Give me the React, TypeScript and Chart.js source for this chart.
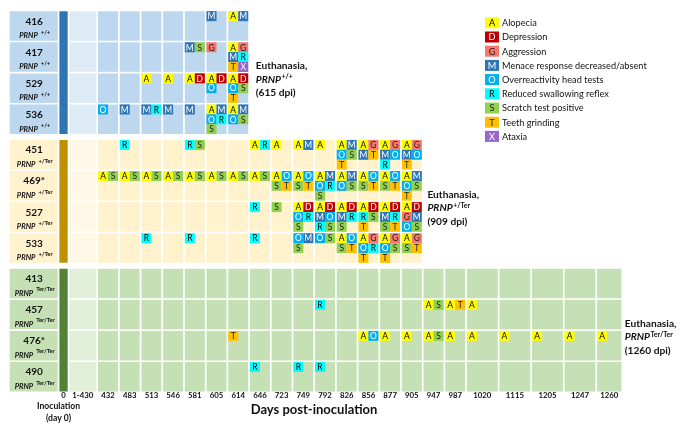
import React, { useEffect, useRef } from 'react';
import { Chart, registerables } from 'chart.js';

Chart.register(...registerables);

// ---------------- data ----------------
const DAYS = ['1-430', '432', '483', '513', '546', '581', '605', '614', '646', '723', '749', '792', '826', '856', '877', '905', '947', '987', '1020', '1115', '1205', '1247', '1260'];
const INOCULATION_TICK = '0';
const GENOTYPES = ['+/+', '+/Ter', 'Ter/Ter'];
const MICE_WT = ['416', '417', '529', '536'];
const MICE_HET = ['451', '469*', '527', '533'];
const MICE_HOM = ['413', '457', '476*', '490'];
const LAST_DAY = ['614', '905', '1260'];
const EUTHANASIA_DPI = [615, 909, 1260];

const SIGN_CODES = ['A', 'D', 'G', 'M', 'O', 'R', 'S', 'T', 'X'];
const SIGN_NAMES = ['Alopecia', 'Depression', 'Aggression', 'Menace response decreased/absent', 'Overreactivity head tests', 'Reduced swallowing reflex', 'Scratch test positive', 'Teeth grinding', 'Ataxia'];

// clinical signs observed per mouse: [day, signs]
const SIGNS_416: [string, string][] = [['605', 'M'], ['614', 'AM']];
const SIGNS_417: [string, string][] = [['581', 'MS'], ['605', 'G'], ['614', 'AGMRTX']];
const SIGNS_529: [string, string][] = [['513', 'A'], ['546', 'A'], ['581', 'AD'], ['605', 'ADO'], ['614', 'ADOST']];
const SIGNS_536: [string, string][] = [['432', 'O'], ['483', 'M'], ['513', 'MR'], ['546', 'M'], ['581', 'M'], ['605', 'AMORS'], ['614', 'AMOS']];
const SIGNS_451: [string, string][] = [['483', 'R'], ['581', 'RS'], ['646', 'AR'], ['723', 'A'], ['749', 'AM'], ['792', 'A'], ['826', 'AMOST'], ['856', 'AGMT'], ['877', 'AGMOR'], ['905', 'AGMOT']];
const SIGNS_469: [string, string][] = [['432', 'AS'], ['483', 'AS'], ['513', 'AS'], ['546', 'AS'], ['581', 'AS'], ['605', 'AS'], ['614', 'AS'], ['646', 'AS'], ['723', 'AOST'], ['749', 'AOST'], ['792', 'AMORS'], ['826', 'AMOS'], ['856', 'AOST'], ['877', 'AOST'], ['905', 'AMOST']];
const SIGNS_527: [string, string][] = [['646', 'R'], ['723', 'S'], ['749', 'ADORS'], ['792', 'ADMORS'], ['826', 'ADMRS'], ['856', 'ADRST'], ['877', 'ADMRST'], ['905', 'ADGMOS']];
const SIGNS_533: [string, string][] = [['513', 'R'], ['581', 'R'], ['646', 'R'], ['749', 'OMS'], ['792', 'OS'], ['826', 'AOST'], ['856', 'AGORT'], ['877', 'AGOST'], ['905', 'AGST']];
const SIGNS_413: [string, string][] = [];
const SIGNS_457: [string, string][] = [['792', 'R'], ['947', 'AS'], ['987', 'AT'], ['1020', 'A']];
const SIGNS_476: [string, string][] = [['614', 'T'], ['856', 'AO'], ['877', 'A'], ['905', 'A'], ['947', 'AS'], ['987', 'A'], ['1020', 'A'], ['1115', 'A'], ['1205', 'A'], ['1247', 'A'], ['1260', 'A']];
const SIGNS_490: [string, string][] = [['646', 'R'], ['749', 'R'], ['792', 'R']];

const SIGNS: Record<string, [string, string][]> = {
  '416': SIGNS_416, '417': SIGNS_417, '529': SIGNS_529, '536': SIGNS_536,
  '451': SIGNS_451, '469*': SIGNS_469, '527': SIGNS_527, '533': SIGNS_533,
  '413': SIGNS_413, '457': SIGNS_457, '476*': SIGNS_476, '490': SIGNS_490,
};
const GROUP_MICE = [MICE_WT, MICE_HET, MICE_HOM];

// ---------------- layout & style ----------------
const W = 685;
const H = 430;
const FONT = 'Lato, "Open Sans", sans-serif';
const PX_X = 21.7; // px per x unit (regular column pitch)
const PX_Y = 31.1; // px per y unit (row pitch)
const ORIGIN_X = 9.7; // px of x = 0
const ORIGIN_Y = 26; // px of y = 0
const GAP = 1.7 / PX_X;
const LABEL_SPAN = 2.29;
const INOC_SPAN = 0.46;
const DAY_SPAN: Record<string, number> = { '1-430': 1.32, '1020': 1.5, '1115': 1.5, '1205': 1.5, '1247': 1.5, '1260': 1.2 };
const GROUP_GAP = 0.14;
const CELL_H = 29.5;
const SQ = 10;
const SQ_ROW = CELL_H / 3;
const AXIS_H = 38;
const EUTH_DX = [7.5, 5.6, 3.3];
const LEGEND_X = 485;
const LEGEND_Y = 22.8;
const LEGEND_STEP = 14.2;

const GROUP_STYLE = [
  { box: '#bdd7ee', cell: '#bdd7ee', early: '#ddebf7', bar: '#2e75b6' },
  { box: '#fff2cc', cell: '#fff2cc', early: '#fff8e6', bar: '#bf9000' },
  { box: '#c5e0b4', cell: '#c5e0b4', early: '#e2f0d9', bar: '#548235' },
];
const SIGN_BG: Record<string, string> = { A: '#ffff00', D: '#c00000', G: '#f8776d', M: '#2e75b6', O: '#00b0f0', R: '#00ffff', S: '#92d050', T: '#ffc000', X: '#9966cc' };
const SIGN_FG: Record<string, string> = { A: '#000', D: '#fff', G: '#222', M: '#fff', O: '#fff', R: '#000', S: '#222', T: '#222', X: '#fff' };

function f(size: number, weight = 'normal', style = 'normal') {
  return `${style} ${weight} ${size}px ${FONT}`;
}

// column geometry in x units
const labelStart = 0;
const inocStart = LABEL_SPAN;
const dayStart: number[] = [];
const daySpan: number[] = [];
{
  let c = LABEL_SPAN + INOC_SPAN;
  DAYS.forEach((d) => {
    const s = DAY_SPAN[d] ?? 1;
    dayStart.push(c);
    daySpan.push(s);
    c += s;
  });
}
const TICK_VALUES = [inocStart + (INOC_SPAN - GAP) / 2, ...DAYS.map((_, i) => dayStart[i] + (daySpan[i] - GAP) / 2)];
const TICK_LABELS = [INOCULATION_TICK, ...DAYS];

// rows in y units
type Row = { id: string; g: number; y: number };
const ROWS: Row[] = [];
{
  let k = 0;
  GROUP_MICE.forEach((mice, g) => {
    mice.forEach((id) => {
      ROWS.push({ id, g, y: k + GROUP_GAP * g });
      k++;
    });
  });
}

function buildData() {
  const cells: any[] = [];
  const cellColors: string[] = [];
  const inoc: any[] = [];
  const inocColors: string[] = [];
  const signs: any[] = [];
  const signColors: string[] = [];

  ROWS.forEach((row) => {
    const st = GROUP_STYLE[row.g];
    cells.push({ x: [labelStart, labelStart + LABEL_SPAN - GAP], y: row.y });
    cellColors.push(st.box);
    const last = DAYS.indexOf(LAST_DAY[row.g]);
    for (let i = 0; i <= last; i++) {
      cells.push({ x: [dayStart[i], dayStart[i] + daySpan[i] - GAP], y: row.y });
      cellColors.push(i === 0 ? st.early : st.cell);
    }
    (SIGNS[row.id] || []).forEach(([day, letters]) => {
      const i = DAYS.indexOf(day);
      letters.split('').forEach((code, k) => {
        const col = k % 2;
        const line = Math.floor(k / 2);
        signs.push({
          x: dayStart[i] + (SQ / 2 + SQ * col) / PX_X,
          y: row.y + (-CELL_H / 2 + SQ_ROW / 2 + SQ_ROW * line) / PX_Y,
          code,
        });
        signColors.push(SIGN_BG[code]);
      });
    });
  });
  GROUP_MICE.forEach((_, g) => {
    const rows = ROWS.filter((r) => r.g === g);
    const yc = (rows[0].y + rows[rows.length - 1].y) / 2;
    inoc.push({ x: [inocStart, inocStart + INOC_SPAN - GAP], y: yc });
    inocColors.push(GROUP_STYLE[g].bar);
  });
  return { cells, cellColors, inoc, inocColors, signs, signColors };
}

function drawParts(ctx: CanvasRenderingContext2D, parts: { t: string; font: string; dy?: number; dx?: number }[], x: number, y: number, align: 'left' | 'center') {
  let total = 0;
  parts.forEach((p) => {
    ctx.font = p.font;
    total += ctx.measureText(p.t).width + (p.dx || 0);
  });
  let cx = align === 'center' ? x - total / 2 : x;
  ctx.textAlign = 'left';
  parts.forEach((p) => {
    ctx.font = p.font;
    cx += p.dx || 0;
    ctx.fillText(p.t, cx, y + (p.dy || 0));
    cx += ctx.measureText(p.t).width;
  });
}

const textPlugin = {
  id: 'texts',
  afterDatasetsDraw(chart: any) {
    const ctx: CanvasRenderingContext2D = chart.ctx;
    const xs = chart.scales.x;
    const ys = chart.scales.y;
    ctx.save();
    // letters inside the clinical sign squares
    const ds = chart.data.datasets[0];
    const meta = chart.getDatasetMeta(0);
    ctx.textAlign = 'center';
    ctx.textBaseline = 'middle';
    ctx.font = f(8.5);
    meta.data.forEach((el: any, i: number) => {
      const code = ds.data[i].code;
      ctx.fillStyle = SIGN_FG[code];
      ctx.fillText(code, el.x, el.y + 0.5);
    });

    // row labels
    ctx.textBaseline = 'alphabetic';
    ctx.fillStyle = '#111';
    const boxCx = xs.getPixelForValue(labelStart + (LABEL_SPAN - GAP) / 2);
    ROWS.forEach((row) => {
      const top = ys.getPixelForValue(row.y) - CELL_H / 2;
      ctx.textAlign = 'center';
      ctx.font = f(10, 'bold');
      ctx.fillText(row.id, boxCx + 0.5, top + 13.3);
      drawParts(ctx, [
        { t: 'PRNP', font: f(7.5, 'bold', 'italic') },
        { t: GENOTYPES[row.g], font: f(5.8, 'bold'), dy: -4.5, dx: 3 },
      ], boxCx + 1, top + 27, 'center');
    });

    // euthanasia notes
    GROUP_MICE.forEach((_, g) => {
      const rows = ROWS.filter((r) => r.g === g);
      const yc = ys.getPixelForValue((rows[0].y + rows[rows.length - 1].y) / 2);
      const li = DAYS.indexOf(LAST_DAY[g]);
      const x = xs.getPixelForValue(dayStart[li] + daySpan[li] - GAP) + EUTH_DX[g];
      ctx.textAlign = 'left';
      ctx.font = f(10.2, 'bold');
      ctx.fillText('Euthanasia,', x, yc - 3.5);
      drawParts(ctx, [
        { t: 'PRNP', font: f(10.2, 'bold', 'italic') },
        { t: GENOTYPES[g], font: f(7, 'bold'), dy: -3.5, dx: 0.5 },
      ], x, yc + 10, 'left');
      ctx.font = f(10.2, 'bold');
      ctx.fillText(`(${EUTHANASIA_DPI[g]} dpi)`, x, yc + 23.5);
    });

    // x axis captions
    const inocCx = xs.getPixelForValue(TICK_VALUES[0]);
    ctx.textAlign = 'center';
    ctx.font = f(8.6, 'bold');
    ctx.fillText('Inoculation', inocCx - 5, 409.3);
    ctx.fillText('(day 0)', inocCx - 5, 420.5);
    const mid = DAYS.indexOf('792');
    ctx.font = f(13, 'bold');
    ctx.fillText('Days post-inoculation', xs.getPixelForValue(dayStart[mid]) - 1, 414);

    // legend
    SIGN_CODES.forEach((code, i) => {
      const cy = LEGEND_Y + LEGEND_STEP * i;
      ctx.fillStyle = SIGN_BG[code];
      ctx.fillRect(LEGEND_X, cy - 5.5, 14, 11);
      ctx.fillStyle = SIGN_FG[code];
      ctx.textAlign = 'center';
      ctx.textBaseline = 'middle';
      ctx.font = f(9.2);
      ctx.fillText(code, LEGEND_X + 7, cy + 0.5);
      ctx.fillStyle = '#111';
      ctx.textAlign = 'left';
      ctx.fillText(SIGN_NAMES[i], LEGEND_X + 17, cy + 0.5);
    });
    ctx.restore();
  },
};

export default function App() {
  const ref = useRef<HTMLCanvasElement>(null);
  useEffect(() => {
    const d = buildData();
    const chart = new Chart(ref.current as HTMLCanvasElement, {
      type: 'bar',
      data: {
        datasets: [
          {
            type: 'scatter',
            data: d.signs,
            backgroundColor: d.signColors,
            pointStyle: 'rect',
            pointRadius: SQ / 2 / Math.SQRT1_2,
            pointBorderWidth: 0,
            borderWidth: 0,
            order: 0,
          } as any,
          {
            type: 'bar',
            indexAxis: 'y',
            data: d.cells,
            backgroundColor: d.cellColors,
            barThickness: CELL_H,
            grouped: false,
            inflateAmount: 0,
            borderWidth: 0,
            order: 1,
          } as any,
          {
            type: 'bar',
            indexAxis: 'y',
            data: d.inoc,
            backgroundColor: d.inocColors,
            barThickness: 3 * PX_Y + CELL_H,
            grouped: false,
            inflateAmount: 0,
            borderWidth: 0,
            order: 2,
          } as any,
        ],
      },
      options: {
        responsive: false,
        animation: false,
        devicePixelRatio: 1,
        events: [],
        layout: { padding: 0, autoPadding: false },
        plugins: { legend: { display: false }, tooltip: { enabled: false }, title: { display: false } },
        scales: {
          x: {
            type: 'linear',
            position: 'bottom',
            offset: false,
            min: -ORIGIN_X / PX_X,
            max: (W - ORIGIN_X) / PX_X,
            grid: { display: false, drawTicks: false, offset: false },
            border: { display: false },
            afterBuildTicks: (s: any) => {
              s.ticks = TICK_VALUES.map((v) => ({ value: v }));
            },
            afterFit: (s: any) => {
              s.height = AXIS_H;
            },
            ticks: {
              autoSkip: false,
              maxRotation: 0,
              minRotation: 0,
              padding: 0,
              color: '#111',
              font: { family: FONT, size: 7.8, weight: 'bold', lineHeight: 1 },
              callback: (_v: any, i: number) => TICK_LABELS[i],
            },
          },
          y: {
            type: 'linear',
            display: false,
            offset: false,
            reverse: true,
            min: -ORIGIN_Y / PX_Y,
            max: (H - AXIS_H - ORIGIN_Y) / PX_Y,
            grid: { offset: false },
          },
        },
      } as any,
      plugins: [textPlugin],
    });
    return () => chart.destroy();
  }, []);
  return (
    <div style={{ position: 'absolute', left: 0, top: 0, width: W, height: H, background: '#fff' }}>
      <canvas ref={ref} width={W} height={H} style={{ width: W, height: H, display: 'block' }} />
    </div>
  );
}
